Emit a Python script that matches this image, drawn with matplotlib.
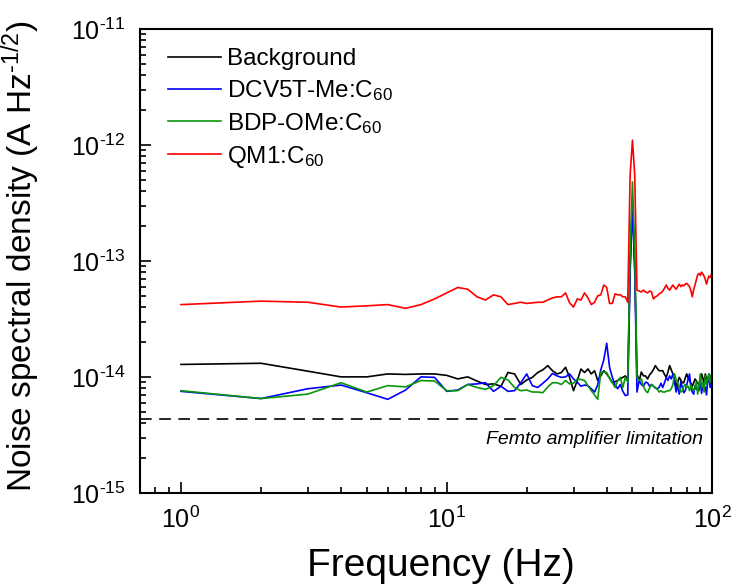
import matplotlib
matplotlib.use("Agg")
import matplotlib.pyplot as plt
from matplotlib.ticker import FixedLocator, FixedFormatter
import numpy as np

plt.rcParams['font.family'] = ['Liberation Sans', 'DejaVu Sans']
plt.rcParams['mathtext.fontset'] = 'custom'
plt.rcParams['mathtext.rm'] = 'Liberation Sans'
plt.rcParams['mathtext.it'] = 'Liberation Sans:italic'
plt.rcParams['mathtext.default'] = 'regular'
plt.rcParams['axes.unicode_minus'] = False

freq = list(range(1, 101))

# values in units of 1e-15 A Hz^-1/2
background = [
    12.8, 13.1, 11.2, 10.0, 10.0, 10.6, 10.5, 10.6, 10.6, 10.3,
    9.6, 10.0, 9.2, 8.6, 8.7, 8.3, 10.9, 10.6, 8.6, 9.4,
    9.9, 10.9, 11.5, 12.5, 11.3, 10.6, 10.9, 12.1, 9.9, 7.6,
    9.3, 11.7, 10.9, 11.7, 10.6, 11.3, 9.3, 10.2, 11.3, 10.6,
    9.8, 8.9, 9.1, 9.3, 9.6, 9.9, 10.2, 9.5, 90.0, 350.0,
    90.0, 10.6, 9.2, 11.0, 10.2, 10.2, 9.6, 10.4, 10.9, 11.6,
    12.5, 11.8, 11.3, 11.3, 11.3, 10.5, 9.9, 11.0, 12.5, 11.5,
    10.6, 9.5, 8.3, 9.0, 9.9, 9.4, 8.9, 8.9, 9.8, 10.6,
    9.8, 9.3, 8.8, 8.3, 8.9, 9.6, 9.2, 8.8, 8.6, 9.4,
    10.6, 9.8, 8.6, 10.6, 9.6, 8.9, 10.3, 9.1, 10.4, 9.6,
]

dcv5t = [
    7.5, 6.5, 7.9, 8.5, 7.3, 6.4, 7.7, 10.0, 9.9, 7.5,
    7.7, 8.6, 8.7, 8.9, 7.5, 8.3, 7.5, 7.6, 8.9, 10.6,
    8.4, 8.1, 8.8, 9.6, 10.7, 10.2, 9.9, 10.0, 10.6, 9.6,
    9.0, 8.3, 8.5, 8.4, 7.9, 7.4, 8.5, 11.5, 14.0, 19.5,
    12.1, 9.9, 8.5, 7.9, 8.6, 7.5, 6.9, 7.0, 80.0, 300.0,
    80.0, 7.4, 9.3, 8.6, 8.3, 9.0, 8.9, 8.3, 8.6, 8.3,
    8.0, 7.9, 8.1, 8.8, 8.1, 8.9, 9.9, 9.3, 10.2, 9.6,
    10.6, 9.0, 7.4, 8.5, 7.1, 9.1, 8.1, 7.3, 7.6, 8.5,
    9.6, 10.6, 8.0, 7.4, 7.1, 8.4, 7.8, 8.1, 7.6, 9.6,
    7.2, 8.8, 7.6, 8.2, 7.0, 9.3, 10.6, 8.1, 9.9, 9.2,
]

bdp = [
    7.6, 6.5, 7.1, 8.9, 7.4, 8.4, 8.2, 9.3, 9.2, 7.6,
    7.6, 8.6, 8.1, 7.8, 8.4, 9.9, 9.4, 8.1, 7.6, 7.7,
    7.4, 7.4, 7.3, 8.2, 8.9, 8.9, 8.6, 9.3, 8.7, 8.8,
    9.6, 9.5, 9.3, 8.4, 7.6, 7.0, 6.4, 10.9, 11.0, 10.9,
    9.7, 8.9, 8.1, 9.3, 9.9, 8.1, 9.9, 9.0, 120.0, 480.0,
    120.0, 9.9, 9.3, 9.6, 8.3, 7.6, 7.3, 8.0, 8.6, 8.3,
    8.1, 7.8, 7.4, 7.6, 7.4, 7.4, 7.5, 7.6, 7.6, 7.9,
    8.6, 10.6, 9.5, 8.9, 8.0, 7.4, 7.6, 8.3, 8.6, 8.1,
    8.3, 7.6, 8.5, 8.0, 7.6, 8.2, 9.0, 7.1, 8.4, 10.6,
    8.1, 8.9, 7.4, 10.2, 8.6, 9.5, 10.6, 8.9, 10.4, 10.0,
]

qm1 = [
    42, 45, 44, 40, 41, 42, 39, 42, 47, 53,
    59, 57, 49, 46, 51, 49, 42, 43, 44, 43,
    43.5, 44, 44, 46, 48, 49, 49, 53, 43.5, 40,
    47, 46, 53, 48, 42, 44, 50, 51, 62, 59,
    43, 43, 52, 51, 51, 49, 49, 44, 550, 1100,
    550, 56, 55, 54, 56, 54, 53, 55, 54, 47,
    49, 50, 52, 53, 55, 58, 62, 58, 56, 59,
    62, 59, 57, 60, 63, 60, 62, 61, 63, 64,
    62, 60, 55, 49, 57, 62, 69, 76, 78, 75,
    80, 77, 74, 69, 63, 69, 74, 72, 76, 70,
]

labels = ['Background', 'DCV5T-Me:C$_{60}$', 'BDP-OMe:C$_{60}$', 'QM1:C$_{60}$']
colors = ['#000000', '#0000ff', '#0a960a', '#ff0000']
limit_level = 4.37  # 1e-15 units
limit_text = 'Femto amplifier limitation'

y_exponents = [-15, -14, -13, -12, -11]
x_exponents = [0, 1, 2]

scale = 1e-15
fig = plt.figure(figsize=(7.36, 5.86), dpi=100)
ax = fig.add_axes([0.190, 0.159, 0.778, 0.7915])

f = np.array(freq)
for data, lab, col in zip([background, dcv5t, bdp, qm1], labels, colors):
    ax.plot(f, np.array(data) * scale, color=col, lw=1.2, label=lab)

ax.axhline(limit_level * scale, color='black', lw=1.2, ls=(0, (7, 4.5)))
ax.text(0.984, 0.115, limit_text, transform=ax.transAxes, ha='right', va='center',
        fontsize=14, style='italic')

ax.set_xscale('log')
ax.set_yscale('log')
ax.set_xlim(0.7, 100)
ax.set_ylim(1e-15, 1e-11)

ax.yaxis.set_major_locator(FixedLocator([10.0 ** e for e in y_exponents]))
ax.yaxis.set_major_formatter(FixedFormatter(
    ['$10^{\u2010%d}$' % abs(e) for e in y_exponents]))
ax.xaxis.set_major_locator(FixedLocator([10.0 ** e for e in x_exponents]))
ax.xaxis.set_major_formatter(FixedFormatter(['$10^{%d}$' % e for e in x_exponents]))

for s in ax.spines.values():
    s.set_linewidth(1.5)
ax.tick_params(which='both', direction='in', top=False, right=False, width=1.2)
ax.tick_params(which='major', length=8, labelsize=18, pad=10)
ax.tick_params(which='minor', length=4)

ax.set_xlabel('Frequency (Hz)', fontsize=28)
ax.xaxis.set_label_coords(0.525, -0.118)
ax.set_ylabel('Noise spectral density (A Hz$^{\u20101/2}$)', fontsize=24)
ax.yaxis.set_label_coords(-0.17, 0.51)

leg = ax.legend(loc='upper left', frameon=False, fontsize=17.5, handlelength=2.2,
                labelspacing=0.33, borderaxespad=0.0, borderpad=0.4,
                handletextpad=0.25, bbox_to_anchor=(0.032, 0.98))

fig.savefig('out.png', dpi=100)
